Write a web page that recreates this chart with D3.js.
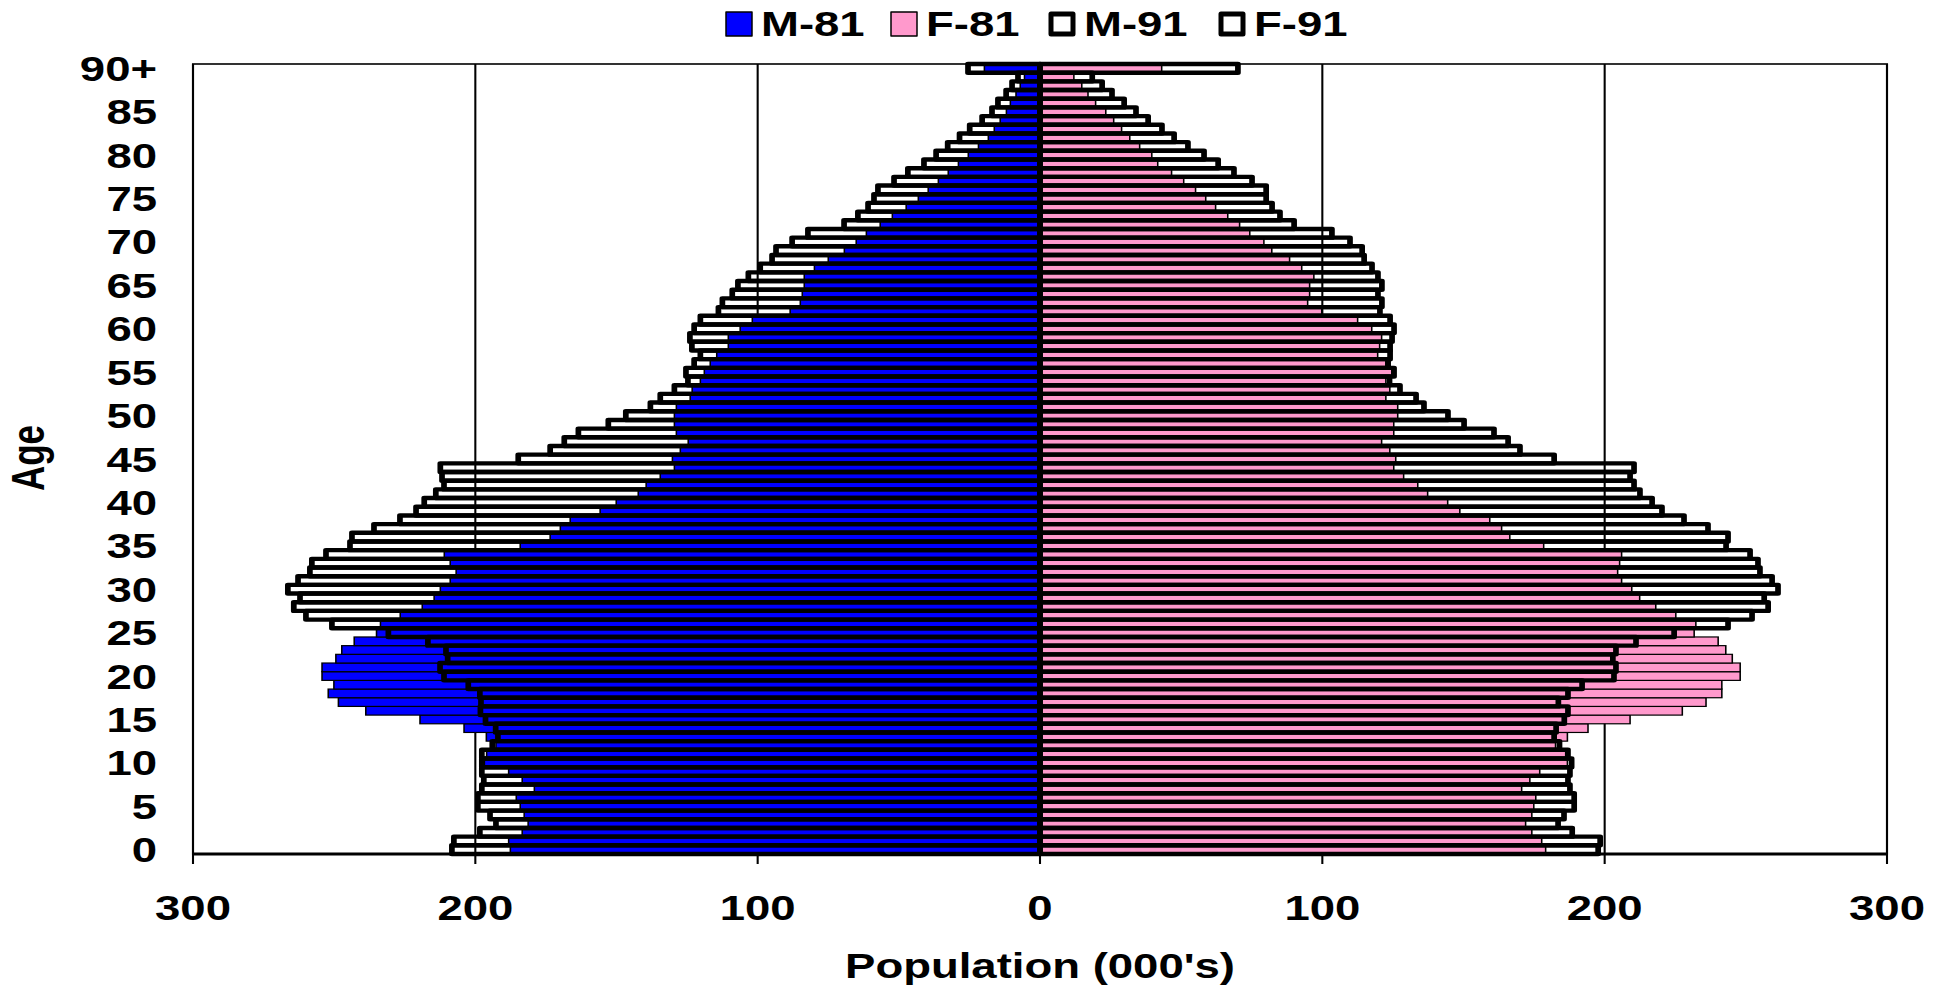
<!DOCTYPE html>
<html>
<head>
<meta charset="utf-8">
<script src="https://cdn.jsdelivr.net/npm/d3@7"></script>
<style>
  body { margin: 0; background: #fff; }
  text { font-family: "Liberation Sans", Arial, sans-serif; font-weight: bold; fill: #000; }
</style>
</head>
<body>
<svg id="chart" width="1946" height="988"></svg>
<script>
// population in thousands, index = age 0..89, last = 90+
const ageLabels = d3.range(0, 91).map(a => a === 90 ? "90+" : String(a));
const m81 = [187.6,188.2,183.4,181.3,182.7,184.1,185.5,179.1,183.4,188.2,
  196.8,196.0,192.7,196.1,204.0,219.6,238.8,248.5,252.1,250.1,
  254.3,254.3,249.4,247.3,242.9,235.0,233.6,226.6,218.8,214.6,
  212.4,208.9,206.8,208.9,211.0,184.1,173.5,169.9,166.4,155.8,
  150.1,142.3,139.5,134.5,129.5,130.2,127.4,124.6,128.8,129.5,
  129.5,128.8,123.9,123.2,120.3,118.9,116.8,114.5,110.4,110.4,
  106.2,101.9,88.5,84.9,84.2,83.5,83.5,79.9,75.0,69.3,
  65.1,61.5,56.6,52.3,47.4,43.1,39.6,36.0,32.5,28.9,
  25.4,21.8,18.3,16.2,14.1,11.9,10.5,8.5,7.0,5.5,19.7];
const f81 = [179.1,177.7,174.2,172.0,174.2,174.9,175.6,170.6,173.5,177.0,
  186.8,186.2,182.6,186.8,194.1,209.0,227.5,235.9,241.5,241.5,
  248.0,248.0,245.2,242.9,240.2,231.7,232.3,225.2,218.1,212.4,
  209.6,206.0,204.6,205.3,206.0,178.4,166.4,163.5,159.3,148.7,
  144.4,137.3,133.8,128.8,125.3,126.0,123.9,121.0,125.3,125.3,
  126.7,126.7,122.5,123.9,122.5,124.6,122.5,119.6,120.3,121.0,
  117.5,112.5,99.8,94.8,95.5,95.5,97.0,92.7,88.4,82.1,
  79.3,74.3,70.7,66.5,62.2,58.7,55.1,50.9,46.6,41.7,
  39.6,35.3,31.8,28.9,26.1,23.3,19.7,17.0,14.8,12.0,43.1];
const m91 = [208.3,207.6,198.4,192.7,194.8,199.1,199.1,197.7,197.0,197.7,
  197.7,197.7,194.0,192.0,192.8,196.4,198.2,198.0,198.4,202.5,
  211.1,212.5,209.8,210.4,216.8,230.8,250.8,260.0,264.3,262.1,
  266.4,262.8,258.6,257.9,252.9,244.4,243.7,235.9,226.7,221.0,
  218.1,214.0,211.1,211.8,212.4,184.8,173.5,168.5,163.5,152.9,
  146.7,138.0,134.5,129.5,124.7,125.4,122.5,120.3,123.3,124.0,
  122.5,120.3,113.9,112.5,109.0,107.0,103.3,99.1,94.9,93.5,
  87.8,82.2,69.4,64.5,60.9,58.8,57.4,51.7,46.8,41.1,
  36.8,32.7,28.5,24.9,20.5,17.0,14.9,12.0,9.9,7.8,25.5];
const f91 = [197.7,198.4,188.5,183.5,185.6,189.2,189.2,187.7,187.0,187.7,
  188.3,187.0,184.0,182.1,182.8,185.7,187.0,183.6,187.0,192.0,
  203.3,204.0,202.9,204.0,211.1,224.6,243.7,252.2,257.9,256.5,
  261.4,259.3,255.0,254.3,251.5,243.0,243.7,236.6,228.1,220.3,
  216.8,212.5,210.4,209.0,210.4,182.1,170.0,165.8,160.8,150.2,
  144.5,136.0,133.2,127.5,123.8,125.4,123.3,124.0,124.0,124.7,
  125.4,124.0,120.4,121.1,119.7,121.1,119.7,117.6,114.8,114.1,
  109.8,103.4,90.0,85.0,82.2,80.1,80.1,75.1,68.7,63.1,
  58.1,52.4,47.5,43.2,38.3,34.0,29.8,25.5,22.0,18.5,70.1];
const xTicks = [-300, -200, -100, 0, 100, 200, 300];
const seriesNames = ["M-81", "F-81", "M-91", "F-91"];

const svg = d3.select("#chart");
const plotL = 193, plotR = 1887, plotT = 64, plotB = 854;
const SX = 1.3; // the original picture is stretched sideways

// everything is drawn in an unstretched group, then widened by SX
const x = d3.scaleLinear().domain([-300, 300]).range([plotL / SX, plotR / SX]);
const y = d3.scaleBand().domain(ageLabels).range([plotB, plotT]).padding(0);
const plot = svg.append("g").attr("transform", `scale(${SX},1)`);

function label(g, px, py, str, anchor) {
  return g.append("text")
    .attr("transform", `translate(${px},${py}) scale(${SX},1)`)
    .attr("text-anchor", anchor)
    .style("font-size", "35px")
    .text(str);
}

// gridlines
plot.append("g").selectAll("line").data(xTicks).enter().append("line")
  .attr("x1", d => x(d)).attr("x2", d => x(d))
  .attr("y1", plotT).attr("y2", plotB)
  .attr("stroke", "#000").attr("stroke-width", 1.6);

const rows = ageLabels.map((a, i) => ({ a, m81: m81[i], f81: f81[i], m91: m91[i], f91: f91[i] }));

// 1981 bars, filled
plot.append("g").selectAll("rect").data(rows).enter().append("rect")
  .attr("x", d => x(-d.m81)).attr("width", d => x(0) - x(-d.m81))
  .attr("y", d => y(d.a)).attr("height", y.bandwidth())
  .attr("fill", "#0000ff").attr("stroke", "#000").attr("stroke-width", 1.2);
plot.append("g").selectAll("rect").data(rows).enter().append("rect")
  .attr("x", x(0)).attr("width", d => x(d.f81) - x(0))
  .attr("y", d => y(d.a)).attr("height", y.bandwidth())
  .attr("fill", "#ff99cc").attr("stroke", "#000").attr("stroke-width", 1.2);

// 1991 bars, outline only
plot.append("g").selectAll("rect").data(rows).enter().append("rect")
  .attr("x", d => x(-d.m91)).attr("width", d => x(0) - x(-d.m91))
  .attr("y", d => y(d.a)).attr("height", y.bandwidth())
  .attr("fill", "none").attr("stroke", "#000").attr("stroke-width", 4.4)
  .attr("stroke-linejoin", "round");
plot.append("g").selectAll("rect").data(rows).enter().append("rect")
  .attr("x", x(0)).attr("width", d => x(d.f91) - x(0))
  .attr("y", d => y(d.a)).attr("height", y.bandwidth())
  .attr("fill", "none").attr("stroke", "#000").attr("stroke-width", 4.4)
  .attr("stroke-linejoin", "round");

// frame + axes
plot.append("rect").attr("x", x(-300)).attr("y", plotT)
  .attr("width", x(300) - x(-300)).attr("height", plotB - plotT)
  .attr("fill", "none").attr("stroke", "#000").attr("stroke-width", 1.6);
plot.append("line").attr("x1", x(-300)).attr("x2", x(300)).attr("y1", plotB).attr("y2", plotB)
  .attr("stroke", "#000").attr("stroke-width", 3);
plot.append("g").selectAll("line").data(xTicks).enter().append("line")
  .attr("x1", d => x(d)).attr("x2", d => x(d))
  .attr("y1", plotB).attr("y2", plotB + 10)
  .attr("stroke", "#000").attr("stroke-width", 1.6);

// tick labels
const lab = svg.append("g");
xTicks.forEach(t => label(lab, x(t) * SX, 920, String(Math.abs(t)), "middle"));
ageLabels.forEach((a, i) => {
  if (i % 5 === 0) label(lab, 157, y(a) + y.bandwidth() / 2 + 12.5, a, "end");
});

// axis titles
label(lab, x(0) * SX, 978, "Population (000's)", "middle");
svg.append("text")
  .attr("transform", `translate(44,458) scale(${SX},1) rotate(-90)`)
  .attr("text-anchor", "middle")
  .style("font-size", "35px")
  .text("Age");

// legend
const legendX = [726, 891, 1049, 1219];
const lg = svg.append("g");
seriesNames.forEach((name, i) => {
  const filled = i < 2;
  lg.append("rect")
    .attr("x", legendX[i] + (filled ? 0 : 2)).attr("y", filled ? 12 : 14)
    .attr("width", filled ? 26 : 22).attr("height", filled ? 24 : 20)
    .attr("fill", i === 0 ? "#0000ff" : i === 1 ? "#ff99cc" : "#fff")
    .attr("stroke", "#000").attr("stroke-width", filled ? 1.5 : 5)
    .attr("stroke-linejoin", "round");
  label(lg, legendX[i] + 35, 36, name, "start");
});
</script>
</body>
</html>
